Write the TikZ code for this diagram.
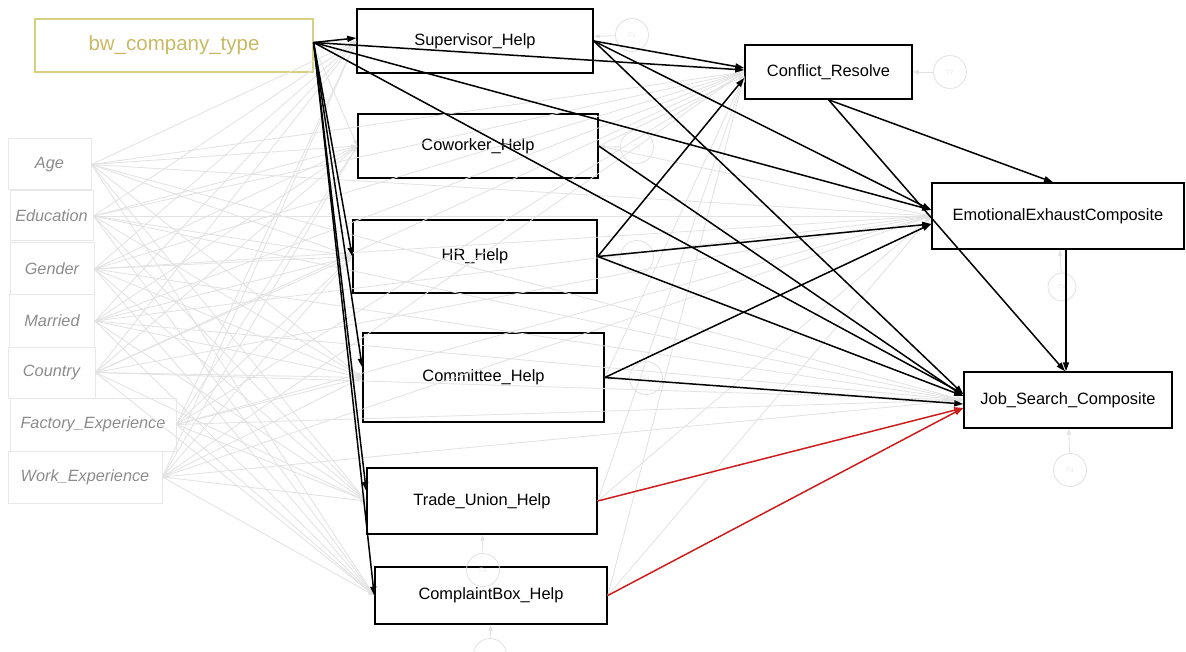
\documentclass[tikz,border=0pt]{standalone}
\usepackage{fontspec}
\setmainfont{Liberation Sans}
\usetikzlibrary{arrows.meta}
\definecolor{lgray}{RGB}{226,226,226}
\definecolor{covtext}{RGB}{140,140,140}
\definecolor{covline}{RGB}{232,232,232}
\definecolor{bwline}{RGB}{216,206,132}
\definecolor{bwtext}{RGB}{200,186,100}
\definecolor{sigred}{RGB}{205,30,30}
\definecolor{errgray}{RGB}{226,226,226}
\begin{document}
\begin{tikzpicture}[x=1pt,y=-1pt,
  box/.style={draw=black, line width=1.5pt, inner sep=0pt, font=\fontsize{16.4}{18}\selectfont},
  cov/.style={draw=covline, line width=1pt, inner sep=0pt, text=covtext, font=\fontsize{16.3}{18}\selectfont\itshape},
  pathb/.style={line width=1.5pt, -{Triangle[length=9pt,width=6pt]}},
  pathr/.style={line width=1.5pt, draw=sigred, -{Triangle[length=9pt,width=6pt,fill=sigred]}},
  faint/.style={draw=lgray, line width=0.8pt, -{Triangle[length=6pt,width=4pt]}},
  err/.style={circle, draw=errgray, line width=0.8pt, minimum size=33pt, inner sep=0pt, text=errgray, font=\small}]
\useasboundingbox (0,0) rectangle (1186,652);
\clip (0,0) rectangle (1186,652);
\fill[white] (0,0) rectangle (1186,652);

% exogenous
\node[draw=bwline, line width=1.2pt, inner sep=0pt, minimum width=278pt, minimum height=53pt,
      text=bwtext, font=\fontsize{20.5}{23}\selectfont] (bw) at (174,45.5) {bw\_company\_type};
\node[cov, minimum width=83pt, minimum height=51pt] (age) at (49.5,164.5) {Age};
\node[cov, minimum width=83pt, minimum height=50pt] (edu) at (51.5,216) {Education};
\node[cov, minimum width=84pt, minimum height=52pt] (gen) at (52,269) {Gender};
\node[cov, minimum width=85pt, minimum height=52pt] (mar) at (52,321) {Married};
\node[cov, minimum width=87pt, minimum height=51pt] (cou) at (51.5,372.5) {Country};
\node[cov, minimum width=166pt, minimum height=53pt] (fac) at (93,424.5) {Factory\_Experience};
\node[cov, minimum width=154pt, minimum height=52pt] (wor) at (85,477) {Work\_Experience};

% mediators
\node[box, minimum width=236pt, minimum height=64pt] (sup) at (475,41) {Supervisor\_Help};
\node[box, minimum width=240pt, minimum height=64pt] (cow) at (478,146) {Coworker\_Help};
\node[box, minimum width=244pt, minimum height=73pt] (hr) at (475,256.5) {HR\_Help};
\node[box, minimum width=241pt, minimum height=89pt] (com) at (483.5,377.5) {Committee\_Help};
\node[box, minimum width=230pt, minimum height=66pt] (tu) at (482,501) {Trade\_Union\_Help};
\node[box, minimum width=232pt, minimum height=57pt] (cb) at (491,595.5) {ComplaintBox\_Help};

% outcomes
\node[box, minimum width=167pt, minimum height=54pt] (cr) at (828.5,72) {Conflict\_Resolve};
\node[box, minimum width=252pt, minimum height=66pt] (ee) at (1058,216) {EmotionalExhaustComposite};
\node[box, minimum width=208pt, minimum height=56pt] (js) at (1068,400) {Job\_Search\_Composite};

% faint (non-significant) paths
\foreach \c in {age,edu,gen,mar,cou,fac,wor}{
  \foreach \t in {sup,cow,hr,com,tu,cb,cr,ee,js}{
    \draw[faint] (\c.east) -- (\t.west);
  }
}
\draw[faint] (bw.east) -- (cow.west);
\foreach \m in {cow,com,tu,cb}{ \draw[faint] (\m.east) -- ([yshift=-4pt]cr.west); }
\foreach \m in {cow,tu,cb}{ \draw[faint] (\m.east) -- (ee.west); }

% error terms
\node[err] (e1) at (632,35) {$\varepsilon_1$};
\node[err] (e2) at (637,147) {$\varepsilon_2$};
\node[err] (e3) at (637,257) {$\varepsilon_3$};
\node[err] (e4) at (646,378) {$\varepsilon_4$};
\node[err] (e5) at (483,570) {$\varepsilon_5$};
\node[err] (e6) at (490,655) {};
\node[err] (e7) at (950,72) {$\varepsilon_7$};
\node[err, minimum size=28pt] (e8) at (1062,287) {$\varepsilon_8$};
\node[err] (e9) at (1070,470) {$\varepsilon_9$};
\draw[faint] (e1) -- (sup);
\draw[faint] (e2) -- (cow);
\draw[faint] (e3) -- (hr);
\draw[faint] (e4) -- (com);
\draw[faint] (e5) -- (tu);
\draw[faint] (e6) -- (cb);
\draw[faint] (e7) -- (cr);
\draw[faint] (e8) -- (ee);
\draw[faint] (e9) -- (js);

% significant paths from bw_company_type
\coordinate (bwo) at ([yshift=3pt]bw.east);
\draw[pathb] (bwo) -- ([yshift=3pt]sup.west);
\draw[pathb] (bwo) -- (hr.west);
\draw[pathb] (bwo) -- ([yshift=10pt]com.west);
\draw[pathb] (bwo) -- ([yshift=10pt]tu.west);
\draw[pathb] (bwo) -- (cb.west);
\draw[pathb] (bwo) -- ([yshift=2pt]cr.west);
\draw[pathb] (bwo) -- ([yshift=6pt]ee.west);
\draw[pathb] (bwo) -- ([yshift=6pt]js.west);

% mediators to outcomes
\draw[pathb] (sup.east) -- ([yshift=4pt]cr.west);
\draw[pathb] (sup.east) -- ([yshift=6pt]ee.west);
\draw[pathb] (sup.east) -- ([yshift=6pt]js.west);
\draw[pathb] (cow.east) -- ([yshift=4pt]js.west);
\draw[pathb] (hr.east) -- ([yshift=-6pt]cr.west);
\draw[pathb] (hr.east) -- ([yshift=-8pt]ee.west);
\draw[pathb] (hr.east) -- ([yshift=4pt]js.west);
\draw[pathb] (com.east) -- ([yshift=-8pt]ee.west);
\draw[pathb] (com.east) -- ([yshift=-4pt]js.west);
\draw[pathr] (tu.east) -- ([yshift=-8pt]js.west);
\draw[pathr] (cb.east) -- ([yshift=-8pt]js.west);

% outcome chain
\draw[pathb] (cr.south) -- ([xshift=-5pt]ee.north);
\draw[pathb] (cr.south) -- ([xshift=-3pt]js.north);
\draw[pathb] ([xshift=8pt]ee.south) -- ([xshift=-2pt]js.north);
\end{tikzpicture}
\end{document}
